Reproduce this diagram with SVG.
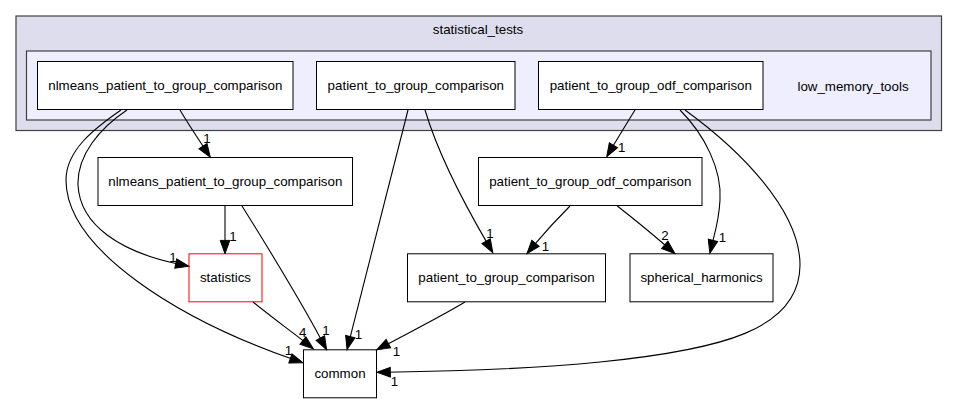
<svg xmlns="http://www.w3.org/2000/svg" width="957" height="403" viewBox="0 0 957 403">
<style>
text{font-family:"Liberation Sans",Arial,Helvetica,sans-serif;font-size:13.33px;fill:#000;text-anchor:middle}
.n{fill:#fff;stroke:#000;stroke-width:1}
.e{fill:none;stroke:#000;stroke-width:1.1}
</style>
<defs>
<marker id="ah" markerUnits="userSpaceOnUse" markerWidth="14" markerHeight="12" refX="3.3" refY="6" orient="auto" viewBox="0 0 14 12" overflow="visible">
<polygon points="0,1.2 13.3,6 0,10.8" fill="#000" stroke="#000" stroke-width="1"/>
</marker>
</defs>
<rect width="957" height="403" fill="#fff"/>
<g id="cluster_statistical_tests">
<rect x="16" y="16" width="925.5" height="114.5" fill="#ddddee" stroke="#404040" stroke-width="1.2"/>
<text x="478" y="33.5">statistical_tests</text>
</g>
<g id="cluster_low_memory_tools">
<rect x="26.5" y="51" width="904.5" height="69" fill="#eeeeff" stroke="#404040" stroke-width="1.2"/>
<text x="853" y="90.5">low_memory_tools</text>
</g>
<g id="node_nlmeans_top"><rect class="n" x="37.5" y="61.5" width="255.5" height="48"/><text x="165.3" y="90">nlmeans_patient_to_group_comparison</text></g>
<g id="node_p2g_top"><rect class="n" x="316.5" y="61.5" width="198.5" height="48"/><text x="415.8" y="90">patient_to_group_comparison</text></g>
<g id="node_odf_top"><rect class="n" x="538.5" y="61.5" width="224.5" height="48"/><text x="650.8" y="90">patient_to_group_odf_comparison</text></g>
<g id="node_nlmeans"><rect class="n" x="98" y="157.5" width="254.5" height="48"/><text x="225.3" y="186">nlmeans_patient_to_group_comparison</text></g>
<g id="node_odf"><rect class="n" x="478.5" y="157.5" width="223.5" height="48"/><text x="590.3" y="186">patient_to_group_odf_comparison</text></g>
<g id="node_statistics"><rect x="189" y="253.8" width="73" height="48" fill="#fff" stroke="#ff0000" stroke-width="1"/><text x="225.5" y="282.3">statistics</text></g>
<g id="node_p2g"><rect class="n" x="407.5" y="253.8" width="198" height="48"/><text x="506.5" y="282.3">patient_to_group_comparison</text></g>
<g id="node_spherical_harmonics"><rect class="n" x="630" y="253.8" width="143" height="48"/><text x="701.5" y="282.3">spherical_harmonics</text></g>
<g id="node_common"><rect class="n" x="303.5" y="349.8" width="73" height="48"/><text x="340" y="378.3">common</text></g>
<g id="connectors">
<path class="e" marker-end="url(#ah)" d="M180,110 C187,122 195,134 204.8,148.9"/>
<text x="207" y="142.5">1</text>
<path class="e" marker-end="url(#ah)" d="M127,110 C100,128 77,155 78,185 C80,225 120,252 179,264.2"/>
<text x="173" y="261.5">1</text>
<path class="e" marker-end="url(#ah)" d="M121,110 C95,128 66,150 66,180 C66,250 180,320 293.5,359.5"/>
<text x="288.5" y="355">1</text>
<path class="e" marker-end="url(#ah)" d="M225,206 L225,243.7"/>
<text x="233" y="241">1</text>
<path class="e" marker-end="url(#ah)" d="M242,206 C262,238 300,300 321.9,340.9"/>
<text x="326" y="335">1</text>
<path class="e" marker-end="url(#ah)" d="M253,302 C270,316 288,329 305.5,342.6"/>
<text x="302.7" y="336.5">4</text>
<path class="e" marker-end="url(#ah)" d="M408,110 L349.5,339.8"/>
<text x="358.5" y="339">1</text>
<path class="e" marker-end="url(#ah)" d="M425,110 C437,150 462,200 487.8,244.1"/>
<text x="490" y="238">1</text>
<path class="e" marker-end="url(#ah)" d="M635,110 C627,123 619,136 611.8,148.1"/>
<text x="621.7" y="151.5">1</text>
<path class="e" marker-end="url(#ah)" d="M680,110 C705,135 722,170 720,200 C719,220 715,232 712.2,243.6"/>
<text x="722.5" y="241.5">1</text>
<path class="e" marker-end="url(#ah)" d="M685,110 C740,150 800,210 800,265 C800,330 720,350 600,362 C520,370 440,371.5 387,372.2"/>
<text x="394.5" y="385.5">1</text>
<path class="e" marker-end="url(#ah)" d="M570,206 C557,219 545,232 533.4,245.9"/>
<text x="545.5" y="251">1</text>
<path class="e" marker-end="url(#ah)" d="M617.3,206 C634,219 651,233 667.3,247"/>
<text x="665" y="240">2</text>
<path class="e" marker-end="url(#ah)" d="M465,302 C440,317 412,331 385.5,345.2"/>
<text x="396.5" y="355.5">1</text>
</g>
</svg>
